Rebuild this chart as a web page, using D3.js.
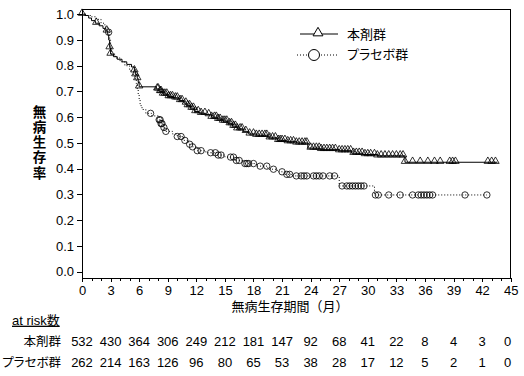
<!DOCTYPE html>
<html>
<head>
<meta charset="utf-8">
<script src="https://cdn.jsdelivr.net/npm/d3@7"></script>
<style>
  body { margin: 0; background: #fff; }
  svg { display: block; }
  text { font-family: "Liberation Sans", Arial, "Noto Sans CJK JP", sans-serif; fill: #000; }
  .jp { font-family: "Liberation Sans", "Noto Sans CJK JP", sans-serif; font-feature-settings: "palt"; }
  .axis path, .axis line { stroke: #000; shape-rendering: crispEdges; }
</style>
</head>
<body>
<svg id="chart" width="524" height="376"></svg>
<script>
"use strict";

// Kaplan-Meier steps: [month, survival]
const drugSteps = [
  [0, 1.0], [0.3, 0.995], [0.7, 0.985], [1.0, 0.975], [1.4, 0.965], [1.8, 0.955],
  [2.2, 0.945], [2.5, 0.935], [2.7, 0.92], [2.8, 0.90], [2.9, 0.87], [3.0, 0.845],
  [3.3, 0.835], [3.7, 0.825], [4.2, 0.815], [4.7, 0.805], [5.2, 0.795], [5.5, 0.78],
  [5.6, 0.765], [5.8, 0.75], [5.9, 0.735], [6.0, 0.718], [7.8, 0.71], [8.1, 0.70],
  [8.5, 0.69], [9.0, 0.68], [9.6, 0.675], [10.2, 0.665], [10.7, 0.655], [11.0, 0.645],
  [11.4, 0.635], [11.8, 0.622], [12.3, 0.615], [13.0, 0.61], [13.6, 0.60], [14.2, 0.592],
  [14.8, 0.585], [15.3, 0.575], [15.8, 0.565], [16.3, 0.555], [16.9, 0.545], [17.5, 0.535],
  [18.3, 0.53], [19.5, 0.52], [20.5, 0.51], [21.5, 0.505], [22.5, 0.50], [23.7, 0.48],
  [25.0, 0.475], [27.0, 0.47], [28.3, 0.46], [29.5, 0.455], [31.0, 0.45], [33.9, 0.425]
];
const drugEnd = 43.6;
const drugCensor = [
  0, 1.5, 2.6, 2.9, 3.0, 5.5, 5.6, 5.8, 6.0, 7.9, 8.0, 8.2, 8.3, 8.5, 8.7, 8.9, 9.1, 9.3,
  9.5, 9.8, 10.0, 10.3, 10.5, 10.9, 11.1, 11.3, 11.5, 11.7, 11.9, 12.2, 12.5, 12.9, 13.3,
  13.6, 13.9, 14.1, 14.3, 14.5, 14.8, 15.0, 15.2, 15.5, 15.7, 15.9, 16.1, 16.3, 16.6, 16.8,
  17.2, 17.6, 18.0, 18.3, 18.6, 18.9, 19.2, 19.4, 19.7, 20.0, 20.3, 20.6, 20.8, 21.0, 21.3,
  21.6, 21.9, 22.2, 22.5, 22.8, 23.1, 23.4, 23.6, 24.0, 24.3, 24.6, 24.9, 25.1, 25.4, 25.7,
  26.0, 26.3, 26.6, 27.0, 27.3, 27.6, 27.9, 28.2, 28.5, 28.8, 29.1, 29.4, 29.7, 30.0, 30.3,
  30.7, 31.0, 31.4, 31.8, 32.2, 32.6, 33.0, 33.4, 33.7, 33.9, 34.7, 35.5, 36.3, 37.0, 37.6,
  38.6, 38.9, 39.2, 42.6, 43.0, 43.4
];

const placeboSteps = [
  [0, 1.0], [0.5, 0.995], [1.0, 0.99], [1.5, 0.98], [2.0, 0.965], [2.4, 0.95], [2.7, 0.93],
  [2.9, 0.90], [3.0, 0.87], [3.1, 0.845], [3.5, 0.83], [4.0, 0.815], [4.5, 0.80], [5.0, 0.78],
  [5.4, 0.76], [5.6, 0.745], [5.7, 0.73], [5.8, 0.71], [5.9, 0.69], [6.0, 0.67], [6.1, 0.645],
  [6.3, 0.63], [6.7, 0.615], [7.3, 0.605], [8.1, 0.59], [8.3, 0.575], [8.5, 0.56], [8.7, 0.545],
  [9.5, 0.535], [10.0, 0.525], [10.7, 0.51], [11.2, 0.495], [11.6, 0.485], [12.1, 0.47],
  [13.0, 0.462], [14.2, 0.453], [15.0, 0.445], [16.0, 0.432], [17.0, 0.42], [18.3, 0.41],
  [19.5, 0.398], [20.5, 0.388], [21.3, 0.378], [22.0, 0.372], [27.0, 0.333], [30.7, 0.298]
];
const placeboEnd = 42.5;
const placeboCensor = [
  2.8, 7.2, 8.1, 8.2, 8.3, 8.4, 8.6, 8.8, 10.0, 10.4, 10.8, 11.3, 11.6, 12.1, 12.5, 13.5,
  14.0, 14.3, 14.6, 15.6, 15.9, 16.2, 16.5, 17.1, 17.3, 17.5, 18.0, 18.7, 19.4, 20.1, 21.0,
  21.5, 21.8, 22.5, 23.0, 23.3, 23.6, 24.3, 24.6, 24.9, 25.3, 26.0, 26.5, 27.3, 27.8, 28.1,
  28.4, 28.7, 29.0, 29.3, 29.6, 30.8, 31.1, 32.2, 33.4, 34.7, 35.3, 35.6, 35.9, 36.2, 36.5,
  36.8, 40.2, 42.5
];

// number at risk
const riskTimes   = [0, 3, 6, 9, 12, 15, 18, 21, 24, 27, 30, 33, 36, 39, 42, 45];
const riskDrug    = [532, 430, 364, 306, 249, 212, 181, 147, 92, 68, 41, 22, 8, 4, 3, 0];
const riskPlacebo = [262, 214, 163, 126, 96, 80, 65, 53, 38, 28, 17, 12, 5, 2, 1, 0];

const groupNames = ["本剤群", "プラセボ群"];
const yTicks = d3.range(0, 11).map(i => i / 10);
const xMajor = d3.range(0, 46, 3);
const xMinor = d3.range(0, 46, 1);

const svg = d3.select("#chart");

const x = d3.scaleLinear().domain([0, 45]).range([82, 510.7]);
const y = d3.scaleLinear().domain([0, 1]).range([271.7, 14.2]);
const frameTop = 9.5, frameBottom = 278;

// frame (left, top, right)
svg.append("path")
  .attr("d", `M${x(0)},${frameBottom}V${frameTop}H${x(45)}V${frameBottom}`)
  .attr("fill", "none").attr("stroke", "#000").attr("stroke-width", 1)
  .attr("shape-rendering", "crispEdges");

// y axis
const yAx = svg.append("g").attr("class", "axis")
  .attr("transform", `translate(${x(0)},0)`)
  .call(d3.axisLeft(y).tickValues(yTicks).tickFormat(d3.format(".1f")).tickSize(5).tickPadding(3));
yAx.select(".domain").remove();
yAx.selectAll("text").style("font-size", "13px");

// x axis, minor then major
svg.append("g").attr("class", "axis")
  .attr("transform", `translate(0,${frameBottom})`)
  .call(d3.axisBottom(x).tickValues(xMinor).tickFormat("").tickSize(2.5).tickSizeOuter(0));
const xAx = svg.append("g").attr("class", "axis")
  .attr("transform", `translate(0,${frameBottom})`)
  .call(d3.axisBottom(x).tickValues(xMajor).tickSize(4).tickSizeOuter(0).tickPadding(4));
xAx.select(".domain").remove();
xAx.selectAll("text").style("font-size", "13px");

// axis titles
svg.append("text").attr("class", "jp")
  .attr("transform", `translate(38,${y(0.5)})`)
  .attr("text-anchor", "middle")
  .style("writing-mode", "vertical-rl")
  .style("font-feature-settings", "normal")
  .style("font-size", "13.5px")
  .style("letter-spacing", "1.8px")
  .style("font-weight", "bold")
  .text("無病生存率");

svg.append("text").attr("class", "jp")
  .attr("x", 290).attr("y", 306).attr("dy", "0.36em")
  .attr("text-anchor", "middle").style("font-size", "13px")
  .style("font-feature-settings", "normal")
  .text("無病生存期間（月）");

// survival step function
function survAt(steps, t) {
  let s = steps[0][1];
  for (const p of steps) { if (p[0] <= t) s = p[1]; }
  return s;
}

const line = d3.line().x(d => x(d[0])).y(d => y(d[1])).curve(d3.curveStepAfter);

const drugPath = drugSteps.concat([[drugEnd, drugSteps[drugSteps.length - 1][1]]]);
const placeboPath = placeboSteps.concat([[placeboEnd, placeboSteps[placeboSteps.length - 1][1]]]);

svg.append("path").datum(placeboPath)
  .attr("d", line).attr("fill", "none").attr("stroke", "#000")
  .attr("stroke-width", 1).attr("stroke-dasharray", "1,2");

svg.append("path").datum(drugPath)
  .attr("d", line).attr("fill", "none").attr("stroke", "#000").attr("stroke-width", 1);

const tri = d3.symbol(d3.symbolTriangle, 24);
const triBig = d3.symbol(d3.symbolTriangle, 42);

svg.append("g").selectAll("path")
  .data(drugCensor).join("path")
  .attr("transform", d => `translate(${x(d)},${y(survAt(drugSteps, d)) - 1})`)
  .attr("d", tri)
  .attr("fill", "none").attr("stroke", "#000").attr("stroke-width", 0.8);

svg.append("g").selectAll("circle")
  .data(placeboCensor).join("circle")
  .attr("cx", d => x(d)).attr("cy", d => y(survAt(placeboSteps, d)))
  .attr("r", 3.2)
  .attr("fill", "none").attr("stroke", "#000").attr("stroke-width", 0.8);

// legend
const lg = svg.append("g");
lg.append("line").attr("x1", 300).attr("x2", 338).attr("y1", 34).attr("y2", 34)
  .attr("stroke", "#000");
lg.append("path").attr("transform", "translate(318,33)").attr("d", triBig)
  .attr("fill", "#fff").attr("stroke", "#000").attr("stroke-width", 1);
lg.append("text").attr("class", "jp").attr("x", 347).attr("y", 34).attr("dy", "0.36em")
  .style("font-size", "13px").text(groupNames[0]);

lg.append("line").attr("x1", 297).attr("x2", 338).attr("y1", 55).attr("y2", 55)
  .attr("stroke", "#000").attr("stroke-dasharray", "1,2");
lg.append("circle").attr("cx", 314).attr("cy", 55).attr("r", 5.5)
  .attr("fill", "#fff").attr("stroke", "#000").attr("stroke-width", 1);
lg.append("text").attr("class", "jp").attr("x", 347).attr("y", 54).attr("dy", "0.36em")
  .style("font-size", "13px").text(groupNames[1]);

// at risk table
svg.append("text").attr("class", "jp")
  .attr("x", 12).attr("y", 320).attr("dy", "0.36em")
  .style("font-size", "13px").style("text-decoration", "underline")
  .text("at risk数");

const rows = [riskDrug, riskPlacebo];
const rowY = [341, 362];
rows.forEach((vals, r) => {
  svg.append("text").attr("class", "jp")
    .attr("x", 61).attr("y", rowY[r]).attr("dy", "0.36em")
    .attr("text-anchor", "end").style("font-size", "12.5px")
    .text(groupNames[r]);
  svg.append("g").selectAll("text")
    .data(vals).join("text")
    .attr("x", (d, i) => x(riskTimes[i]) - (i === vals.length - 1 ? 3 : 0))
    .attr("y", rowY[r]).attr("dy", "0.36em")
    .attr("text-anchor", "middle").style("font-size", "13px")
    .text(d => d);
});
</script>
</body>
</html>
